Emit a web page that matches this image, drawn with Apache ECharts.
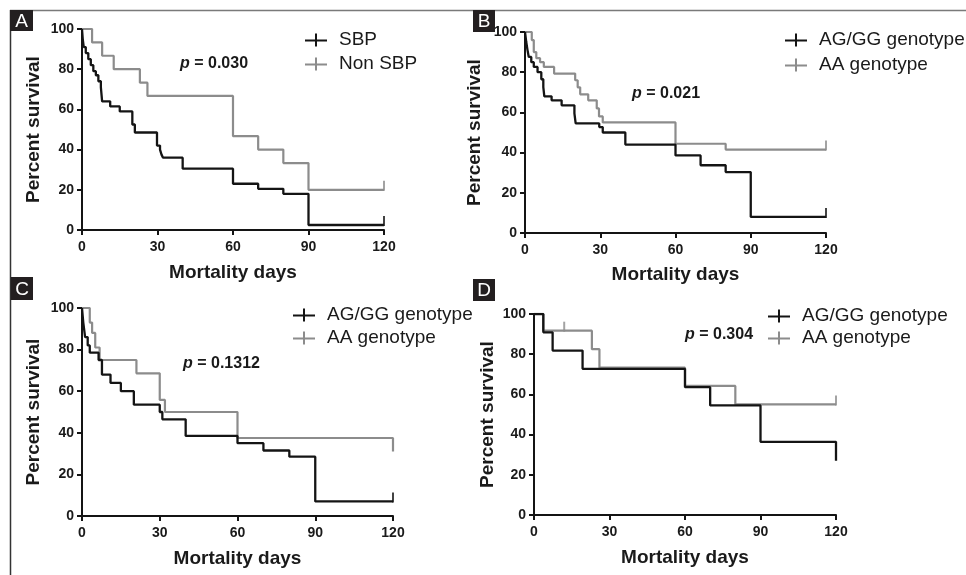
<!DOCTYPE html>
<html><head><meta charset="utf-8">
<script src="https://cdn.jsdelivr.net/npm/echarts@6/dist/echarts.min.js"></script>
<style>html,body{margin:0;padding:0;background:#fff}#c{width:966px;height:575px}</style>
</head><body><div id="c"></div>
<script>
// ---------- data ----------
const panelLabels = ['A', 'B', 'C', 'D'];
const pValues = ['0.030', '0.021', '0.1312', '0.304'];
const xTicks = [0, 30, 60, 90, 120];
const yTicks = [0, 20, 40, 60, 80, 100];
const xAxisTitle = 'Mortality days';
const yAxisTitle = 'Percent survival';
const namesA = ['SBP', 'Non SBP'];
const namesGeno = ['AG/GG genotype', 'AA genotype'];

// Panel A
const aBlackT = [0, 0.3, 0.7, 1.5, 2.5, 3.5, 4.5, 5.5, 6.5, 7.5, 8, 11.2, 15, 20, 21, 29.8, 31, 31.6, 32.2, 40, 60, 70, 80, 90, 120];
const aBlackS = [100, 95, 91, 88, 85, 82, 79, 77, 74, 71, 64, 61.5, 59, 52.5, 48.5, 42, 40, 37.5, 36, 30.5, 23, 20.5, 18, 2.5, 2.5];
const aGrayT = [0, 4, 8, 12.6, 23, 26, 60, 70, 80, 90, 120];
const aGrayS = [100, 93.3, 86.7, 80, 73.3, 66.7, 46.7, 40, 33.3, 20, 20];
// Panel B
const bBlackT = [0, 0.5, 1, 1.5, 2.5, 3.5, 5, 6.5, 7.3, 7.7, 10.6, 14.6, 19.7, 20.2, 29.6, 31, 40, 60, 70, 80, 90, 120];
const bBlackS = [100, 95, 91, 87.6, 85, 82.6, 80, 76.5, 72.6, 68, 66, 63.5, 59.5, 54.5, 52.7, 50, 44, 38.6, 33.7, 30.3, 8, 8];
const bGrayT = [0, 2.7, 3.5, 4.5, 6, 7.5, 11.6, 20, 21, 22, 25.2, 28.6, 29.5, 31, 60, 80, 120];
const bGrayS = [100, 96, 90, 87, 85, 82.6, 79.3, 76, 72.5, 69, 66, 62, 58, 55, 44.4, 41.5, 41.5];
// Panel C
const cBlackT = [0, 0.5, 1.2, 2.2, 3, 6.4, 7.7, 11, 15, 20, 30, 31, 40, 60, 70, 80, 90, 120];
const cBlackS = [100, 93, 86, 82, 78.5, 75, 68, 64, 60, 53.5, 50, 46.5, 38.5, 35, 31.5, 28.5, 7, 7];
const cGrayT = [0, 3, 3.9, 5.1, 6.8, 7.7, 21, 30, 31, 32, 60, 120, 120];
const cGrayS = [100, 93, 88, 81, 75, 75, 68.6, 55.8, 55.8, 50, 37.5, 37.5, 31];
// Panel D
const dBlackT = [0, 3.7, 7.4, 19.3, 60, 70, 90, 120, 120];
const dBlackS = [100, 90.9, 81.8, 72.7, 63.6, 54.5, 36.4, 36.4, 27];
const dGrayT = [0, 3.7, 23, 26, 60, 80, 120];
const dGrayS = [100, 91.7, 82.5, 73.3, 64.2, 55.0, 55.0];

// censored observations (tick marks)
const censorBlackT = [[120], [120], [120], []];
const censorBlackS = [[2.5], [8], [7], []];
const censorGrayT = [[120], [120], [], [12, 120]];
const censorGrayS = [[20], [41.5], [], [91.7, 55.0]];

// ---------- layout / style ----------
const BLACK = '#141414', GRAY = '#8c8c8c';
const FONT = 'Liberation Sans, Arial, Helvetica, sans-serif';
const grids = [
  {left: 82, top: 29, width: 302, height: 201},
  {left: 525, top: 32, width: 301, height: 201},
  {left: 82, top: 308, width: 311, height: 208},
  {left: 534, top: 314, width: 302, height: 201}
];
const yNameGaps = [39, 41, 39, 37];
const xNameGaps = [33, 32, 33, 33];
const legendPos = [
  {left: 305, top: 30, gap: 4},
  {left: 785, top: 30, gap: 5},
  {left: 293, top: 305, gap: 3},
  {left: 768, top: 306, gap: 2}
];
const pPos = [[180, 66], [632, 96], [183, 366], [685, 337]];
const labelBoxes = [[10, 10, 23, 21], [473, 10, 22, 22], [11, 277, 22, 23], [473, 279, 22, 22]];

const blackData = [[aBlackT, aBlackS], [bBlackT, bBlackS], [cBlackT, cBlackS], [dBlackT, dBlackS]];
const grayData = [[aGrayT, aGrayS], [bGrayT, bGrayS], [cGrayT, cGrayS], [dGrayT, dGrayS]];
const zip = (t, s) => t.map((v, i) => [v, s[i]]);
const legendIcon = 'path://M0,6L22,6L22,8L0,8Z M10,0L12,0L12,13L10,13Z';

const xAxes = [], yAxes = [], series = [], legends = [], graphics = [];
for (let p = 0; p < 4; p++) {
  const axisCommon = {
    gridIndex: p,
    axisLine: {lineStyle: {color: BLACK, width: 2}},
    axisTick: {length: 5, lineStyle: {color: BLACK, width: 2}},
    splitLine: {show: false},
    nameLocation: 'middle',
    nameTextStyle: {color: '#1a1a1a', fontFamily: FONT, fontWeight: 'bold', fontSize: 19}
  };
  const lbl = {color: '#1a1a1a', fontFamily: FONT, fontWeight: 'bold', fontSize: 14};
  xAxes.push(Object.assign({}, axisCommon, {
    type: 'value', min: xTicks[0], max: xTicks[xTicks.length - 1], interval: xTicks[1] - xTicks[0],
    name: xAxisTitle, nameGap: xNameGaps[p],
    axisLabel: Object.assign({margin: 10}, lbl)
  }));
  yAxes.push(Object.assign({}, axisCommon, {
    type: 'value', min: yTicks[0], max: yTicks[yTicks.length - 1], interval: yTicks[1] - yTicks[0],
    name: yAxisTitle, nameGap: yNameGaps[p],
    axisLabel: Object.assign({margin: 8}, lbl)
  }));
  const names = p === 0 ? namesA : namesGeno;
  series.push({
    type: 'line', name: names[1], xAxisIndex: p, yAxisIndex: p, step: 'end', symbol: 'none',
    data: zip(grayData[p][0], grayData[p][1]), z: 2,
    lineStyle: {color: GRAY, width: 2.2}, itemStyle: {color: GRAY}, animation: false
  });
  series.push({
    type: 'line', name: names[0], xAxisIndex: p, yAxisIndex: p, step: 'end', symbol: 'none',
    data: zip(blackData[p][0], blackData[p][1]), z: 3,
    lineStyle: {color: BLACK, width: 2.3}, itemStyle: {color: BLACK}, animation: false
  });
  series.push({
    type: 'scatter', name: 'censor-gray-' + p, xAxisIndex: p, yAxisIndex: p,
    data: zip(censorGrayT[p], censorGrayS[p]), symbol: 'rect', symbolSize: [2, 10], symbolOffset: [0, -4],
    itemStyle: {color: GRAY}, z: 2, silent: true, animation: false
  });
  series.push({
    type: 'scatter', name: 'censor-black-' + p, xAxisIndex: p, yAxisIndex: p,
    data: zip(censorBlackT[p], censorBlackS[p]), symbol: 'rect', symbolSize: [2, 10], symbolOffset: [0, -4],
    itemStyle: {color: BLACK}, z: 3, silent: true, animation: false
  });
  legends.push({
    orient: 'vertical', left: legendPos[p].left, top: legendPos[p].top, padding: 0,
    itemGap: legendPos[p].gap, itemWidth: 22, itemHeight: 13, selectedMode: false,
    data: [{name: names[0], icon: legendIcon, itemStyle: {color: BLACK}}, {name: names[1], icon: legendIcon, itemStyle: {color: GRAY}}],
    textStyle: {color: '#1a1a1a', fontFamily: FONT, fontSize: 19, lineHeight: 20, padding: [0, 0, 0, 7]}
  });
  graphics.push({
    type: 'text', left: pPos[p][0], top: pPos[p][1] - 10,
    style: {
      text: '{i|p} = ' + pValues[p],
      font: 'bold 16px ' + FONT, fill: '#1a1a1a',
      rich: {i: {fontStyle: 'italic', fontWeight: 'bold', fontSize: 16, fontFamily: FONT, fill: '#1a1a1a'}}
    }
  });
  const b = labelBoxes[p];
  graphics.push({type: 'rect', shape: {x: b[0], y: b[1], width: b[2], height: b[3]}, style: {fill: '#231f20'}, z: 10});
  graphics.push({
    type: 'text', x: b[0] + b[2] / 2, y: b[1] + b[3] / 2 + 1, z: 11,
    style: {text: panelLabels[p], fill: '#fff', font: '19px ' + FONT, align: 'center', verticalAlign: 'middle'}
  });
}
// frame lines
graphics.push({type: 'line', shape: {x1: 10, y1: 10.5, x2: 966, y2: 10.5}, style: {stroke: '#7a7a7a', lineWidth: 1.5}, z: 9});
graphics.push({type: 'line', shape: {x1: 10.5, y1: 10, x2: 10.5, y2: 575}, style: {stroke: '#333', lineWidth: 1.5}, z: 9});

const chart = echarts.init(document.getElementById('c'), null, {renderer: 'canvas'});
chart.setOption({
  animation: false,
  backgroundColor: '#fff',
  grid: grids,
  xAxis: xAxes,
  yAxis: yAxes,
  legend: legends,
  series: series,
  graphic: graphics
});
</script>
</body></html>
